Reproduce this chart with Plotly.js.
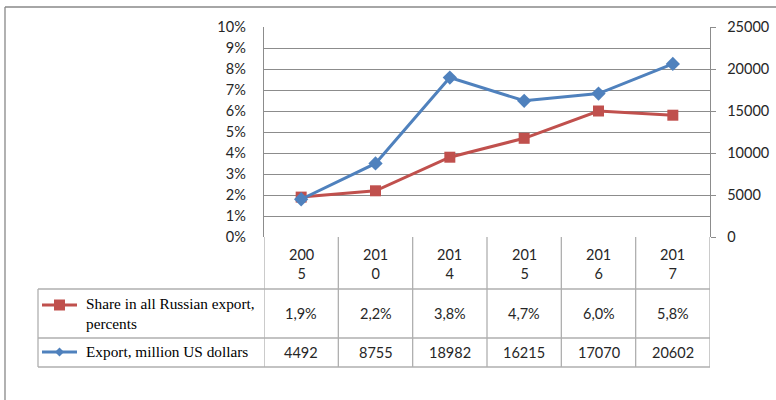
<!DOCTYPE html>
<html><head><meta charset="utf-8">
<script src="https://cdn.plot.ly/plotly-3.0.1.min.js"></script>
<style>html,body{margin:0;padding:0;background:#fff}</style>
</head><body>
<div id="chart" style="width:776px;height:400px"></div>
<script>
const years = ['2005','2010','2014','2015','2016','2017'];
const sharePct = [1.9, 2.2, 3.8, 4.7, 6.0, 5.8];
const exportMln = [4492, 8755, 18982, 16215, 17070, 20602];
const shareName = 'Share in all Russian export,<br>percents';
const exportName = 'Export, million US dollars';
const leftTicks = [0,1,2,3,4,5,6,7,8,9,10];
const rightTicks = [0,5000,10000,15000,20000,25000];

const RED = '#C0504D', BLUE = '#4F81BD';
const GRID = '#8C8C8C', TBL = '#AFAFAF';
const numFont = {family:'Lato, Open Sans, sans-serif', size:14.5, color:'#262626'};
const serif = {family:'Liberation Serif, Times New Roman, DejaVu Serif, serif', size:15.3, color:'#000'};

const xi = years.map((_, i) => i);
const traces = [
  {x: xi, y: sharePct, type:'scatter', mode:'lines+markers', yaxis:'y',
   line:{color:RED, width:3}, marker:{symbol:'square', size:11, color:RED}, showlegend:false, cliponaxis:false},
  {x: xi, y: exportMln, type:'scatter', mode:'lines+markers', yaxis:'y2',
   line:{color:BLUE, width:3}, marker:{symbol:'diamond', size:11, color:BLUE}, showlegend:false, cliponaxis:false}
];

// table geometry in paper coords (plot: 446 x 210 px)
const pxX = p => p/446, pxY = p => p/210;
const yHead = -pxY(52), yRow1 = -pxY(101), yRow2 = -pxY(130);
const xLeg = -pxX(226);
const shapes = [];
const ann = [];
const line = (x0,y0,x1,y1,c,w,xr) => shapes.push({type:'line', xref:xr||'paper', yref:'paper', x0, y0, x1, y1, line:{color:c, width:w||1}});
// outer chart border (top and left)
line(-pxX(259), 1+pxY(20), 1+pxX(70), 1+pxY(20), '#888', 1.3);
line(-pxX(259), 1+pxY(20), -pxX(259), -pxY(170), '#888', 1.3);
// table horizontal lines
line(0, yHead, 1, yHead, TBL, 1.3);
line(xLeg, yHead, 0, yHead, TBL, 1.3);
line(xLeg, yRow1, 1, yRow1, TBL, 1.3);
line(xLeg, yRow2, 1, yRow2, TBL, 1.3);
// vertical lines
line(xLeg, yHead, xLeg, yRow2, TBL, 1.3);
for (let i = 0; i <= years.length; i++) {
  shapes.push({type:'line', xref:'x', yref:'paper', x0:i-0.5, x1:i-0.5, y0:0, y1:yRow2, line:{color:TBL, width:1.3}});
}
// legend keys
const k1 = yHead - pxY(16), k2 = yRow1 - pxY(14);
line(xLeg+pxX(4), k1, xLeg+pxX(39), k1, RED, 3);
line(xLeg+pxX(4), k2, xLeg+pxX(39), k2, BLUE, 3);
shapes.push({type:'rect', xref:'paper', yref:'paper', x0:xLeg+pxX(16), x1:xLeg+pxX(27), y0:k1-pxY(5.5), y1:k1+pxY(5.5), fillcolor:RED, line:{width:0}});
const cx = xLeg+pxX(21.5);
shapes.push({type:'path', xref:'paper', yref:'paper', fillcolor:BLUE, line:{width:0},
  path:`M ${cx-pxX(4.5)} ${k2} L ${cx} ${k2+pxY(4.5)} L ${cx+pxX(4.5)} ${k2} L ${cx} ${k2-pxY(4.5)} Z`});
// legend labels
ann.push({xref:'paper', yref:'paper', x:xLeg+pxX(46), y:(yHead+yRow1)/2, xanchor:'left', yanchor:'middle', align:'left', text:shareName, showarrow:false, font:serif});
ann.push({xref:'paper', yref:'paper', x:xLeg+pxX(46), y:(yRow1+yRow2)/2+pxY(1), xanchor:'left', yanchor:'middle', align:'left', text:exportName, showarrow:false, font:serif});
// category headers and values
years.forEach((yr, i) => {
  ann.push({xref:'x', yref:'paper', x:i, y:yHead/2 - pxY(1), yanchor:'middle', text:yr.slice(0,3)+'<br>'+yr.slice(3), showarrow:false, font:numFont});
  ann.push({xref:'x', yref:'paper', x:i, y:(yHead+yRow1)/2, yanchor:'middle', text:sharePct[i].toFixed(1).replace('.', ',')+'%', showarrow:false, font:numFont});
  ann.push({xref:'x', yref:'paper', x:i, y:(yRow1+yRow2)/2, yanchor:'middle', text:String(exportMln[i]), showarrow:false, font:numFont});
});

const layout = {
  width:776, height:400,
  margin:{l:264, r:66, t:27, b:163},
  paper_bgcolor:'#fff', plot_bgcolor:'#fff',
  xaxis:{type:'linear', range:[-0.5, years.length-0.5], showticklabels:false, showgrid:false, zeroline:false, showline:false, ticks:''},
  yaxis:{range:[0,10], tickvals:leftTicks, ticktext:leftTicks.map(v=>v+'%'), showgrid:true, gridcolor:GRID, gridwidth:1,
         showline:true, linecolor:GRID, linewidth:1.3, zeroline:false, ticks:'', tickfont:numFont, ticklabelstandoff:14},
  yaxis2:{range:[0,25000], overlaying:'y', side:'right', tickvals:rightTicks, ticktext:rightTicks.map(String), showgrid:false, zeroline:false,
          showline:true, linecolor:GRID, linewidth:1.3, ticks:'outside', ticklen:5, tickcolor:GRID, tickfont:numFont, ticklabelstandoff:8},
  shapes, annotations:ann, showlegend:false
};
Plotly.newPlot('chart', traces, layout, {displayModeBar:false, staticPlot:true});
</script>
</body></html>
